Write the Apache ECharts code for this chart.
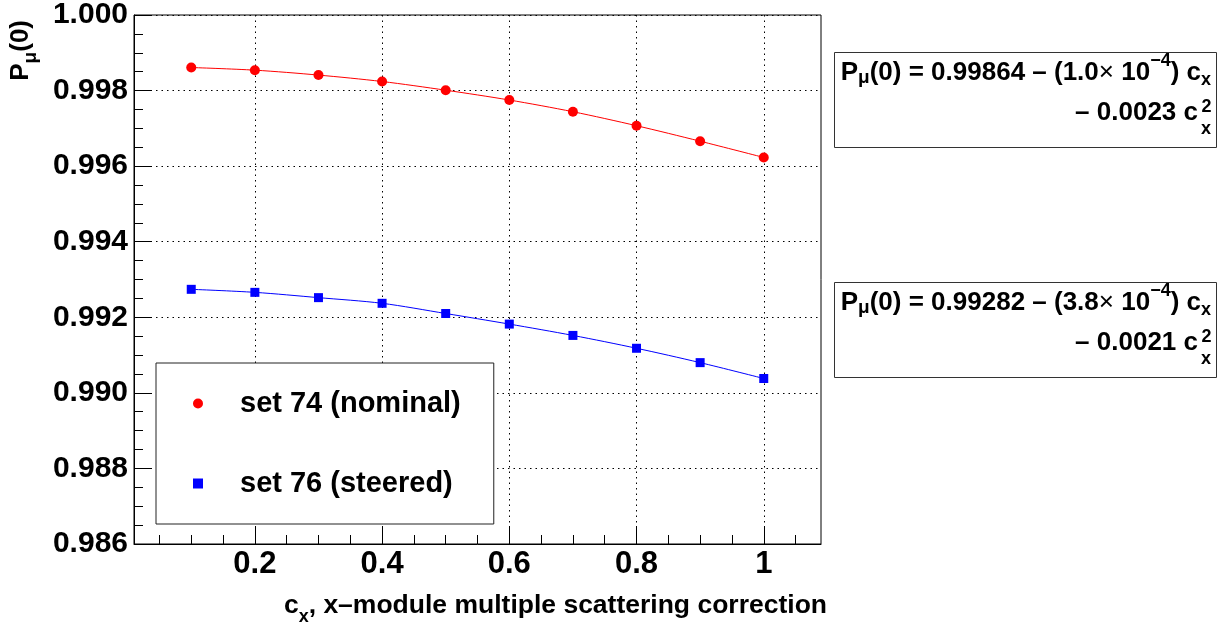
<!DOCTYPE html>
<html><head><meta charset="utf-8">
<script src="https://cdn.jsdelivr.net/npm/echarts@6/dist/echarts.min.js"></script>
<style>html,body{margin:0;padding:0;background:#fff}#c{width:1227px;height:625px}</style>
</head><body><div id="c"></div>
<script>
const cx = [0.1, 0.2, 0.3, 0.4, 0.5, 0.6, 0.7, 0.8, 0.9, 1.0];
const set74 = [0.99861, 0.99854, 0.99841, 0.99824, 0.99801, 0.99775, 0.99744, 0.99707, 0.99666, 0.99623];
const set76 = [0.99274, 0.99266, 0.99252, 0.99237, 0.99210, 0.99182, 0.99152, 0.99118, 0.99080, 0.99038];
const xMajor = [0.2, 0.4, 0.6, 0.8, 1.0];
const xMinor = [0.05, 0.1, 0.15, 0.25, 0.3, 0.35, 0.45, 0.5, 0.55, 0.65, 0.7, 0.75, 0.85, 0.9, 0.95, 1.05];
const legendNames = ['set 74 (nominal)', 'set 76 (steered)'];
const fit74 = ['0.99864', '1.0', '0.0023'];
const fit76 = ['0.99282', '3.8', '0.0021'];

const FONT = "'Liberation Sans', Arial, Helvetica, sans-serif";
const TOP = 40;
function tok(fs, baseOff, weight) {
  return {fontSize: fs, fontFamily: FONT, fontWeight: weight || 'bold', color: '#000',
          verticalAlign: 'top', padding: [Math.max(0, baseOff - 0.85 * fs), 0, 0, 0]};
}
function rtext(x, y, text, rich, align, extra) {
  return Object.assign({type: 'text', x: x, y: y, z: 100,
    style: {x: 0, y: -TOP, text: text, rich: rich, align: align, verticalAlign: 'top'}}, extra || {});
}
const formulaRich = {
  m: tok(26, TOP), s: tok(19, TOP + 3), x: tok(18, TOP + 5), p: tok(18, TOP - 14.7), t: tok(26, TOP, 'normal')
};
function formulaBox(fit, dy) {
  return [
    {type: 'rect', z: 90, shape: {x: 834.5, y: 52.5 + dy, width: 382, height: 95},
     style: {fill: '#fff', stroke: '#333', lineWidth: 1}},
    rtext(1211, 81.7 + dy, '{m|P}{s|μ}{m|(0) = ' + fit[0] + ' – (' + fit[1] + '}{t|×}{m| 10}{p|−4}{m|) c}{x|x}', formulaRich, 'right'),
    rtext(1198, 121.7 + dy, '{m|– ' + fit[2] + ' c}', formulaRich, 'right'),
    rtext(1201.5, 113 + dy, '{q|2}', {q: tok(18, TOP)}, 'left'),
    rtext(1201, 135 + dy, '{q|x}', {q: tok(18, TOP)}, 'left')
  ];
}

// vertical y-axis title, built from pieces laid along the rotated baseline
const measureCtx = document.createElement('canvas').getContext('2d');
function textW(str, fs) { measureCtx.font = 'bold ' + fs + 'px ' + FONT; return measureCtx.measureText(str).width; }
function yTitle() {
  const pieces = [['(0)', 26, 30], ['μ', 19, 37], ['P', 26, 30]]; // text, size, baseline x
  let yEnd = 20;
  const els = [];
  pieces.forEach(([t, fs, base]) => {
    els.push({type: 'group', x: base - 0.35 * fs, y: yEnd, rotation: Math.PI / 2, children: [
      {type: 'text', z: 100, style: {x: 0, y: 0, text: t, align: 'right', verticalAlign: 'middle',
        fontSize: fs, fontWeight: 'bold', fontFamily: FONT, fill: '#000'}}]});
    yEnd += textW(t, fs);
  });
  return els;
}

const chart = echarts.init(document.getElementById('c'), null, {renderer: 'canvas'});
const tickLabelStyle = {fontSize: 31, fontWeight: 'bold', fontFamily: FONT, color: '#000'};
const gridLine = {show: true, lineStyle: {type: [1.5, 4], color: '#000', width: 1}};

chart.setOption({
  animation: false,
  backgroundColor: '#fff',
  grid: {left: 134, top: 14, width: 687, height: 530, show: true, borderColor: '#000', borderWidth: 1},
  xAxis: [
    {type: 'value', min: 0.01, max: 1.09, position: 'bottom',
     axisLine: {show: true, lineStyle: {color: '#000', width: 1}},
     axisTick: {show: true, inside: true, length: 18, customValues: xMajor, lineStyle: {color: '#000'}},
     axisLabel: Object.assign({customValues: xMajor, margin: 5,
       formatter: v => String(Math.round(v * 10) / 10)}, tickLabelStyle),
     splitLine: gridLine},
    {type: 'value', min: 0.01, max: 1.09, position: 'bottom',
     axisLine: {show: false}, axisLabel: {show: false}, splitLine: {show: false},
     axisTick: {show: true, inside: true, length: 9, customValues: xMinor, lineStyle: {color: '#000'}}}
  ],
  yAxis: {type: 'value', min: 0.986, max: 1.0, interval: 0.002,
    axisLine: {show: true, lineStyle: {color: '#000', width: 1}},
    axisTick: {show: true, inside: true, length: 18, lineStyle: {color: '#000'}},
    minorTick: {show: true, splitNumber: 4, length: 9, lineStyle: {color: '#000'}},
    axisLabel: Object.assign({margin: 6, padding: [5, 0, 0, 0], formatter: v => v.toFixed(3)}, tickLabelStyle, {fontSize: 30}),
    splitLine: gridLine},
  legend: {
    orient: 'vertical', left: 156, top: 363,
    padding: [26, 33, 26, 37], itemGap: 51, itemWidth: 10, itemHeight: 10,
    backgroundColor: '#fff', borderColor: '#222', borderWidth: 1,
    selectedMode: false,
    textStyle: {fontSize: 29, fontWeight: 'bold', fontFamily: FONT, color: '#000', padding: [0, 0, 0, 32]},
    data: [{name: legendNames[0], icon: 'circle'}, {name: legendNames[1], icon: 'rect'}]
  },
  series: [
    {name: legendNames[0], type: 'line', xAxisIndex: 0, data: cx.map((x, i) => [x, set74[i]]),
     smooth: 0.3, symbol: 'circle', symbolSize: 10, z: 3,
     itemStyle: {color: '#ff0000'}, lineStyle: {color: '#ff0000', width: 1}},
    {name: legendNames[1], type: 'line', xAxisIndex: 0, data: cx.map((x, i) => [x, set76[i]]),
     smooth: 0.3, symbol: 'rect', symbolSize: 9, z: 3,
     itemStyle: {color: '#0000ff'}, lineStyle: {color: '#0000ff', width: 1}}
  ],
  graphic: [].concat(
    formulaBox(fit74, 0),
    formulaBox(fit76, 230),
    yTitle(),
    [rtext(827, 614.3, '{m|c}{x|x}{m|, x–module multiple scattering correction}', {m: tok(26.5, TOP), x: tok(18, TOP + 9)}, 'right')]
  )
});
</script>
</body></html>
